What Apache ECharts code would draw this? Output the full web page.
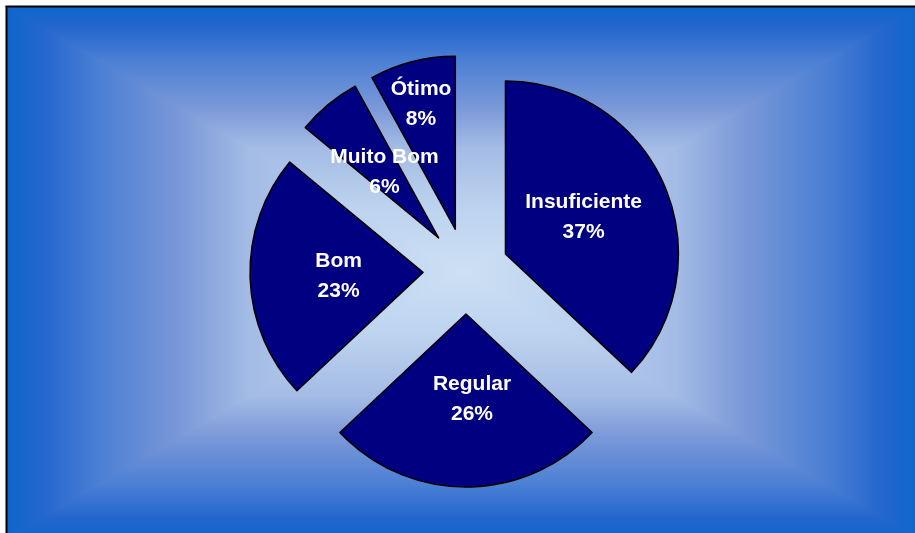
<!DOCTYPE html>
<html>
<head>
<meta charset="utf-8">
<script src="https://cdn.jsdelivr.net/npm/echarts@6/dist/echarts.min.js"></script>
<style>
  html, body { margin: 0; padding: 0; background: #ffffff; }
  #chart { width: 915px; height: 533px; }
</style>
</head>
<body>
<div id="chart"></div>
<script>
// ---- Data ----
const categories = ['Insuficiente', 'Regular', 'Bom', 'Muito Bom', 'Ótimo'];
const values = [37, 26, 23, 6, 8];

// ---- Layout / style ----
const frame = { x: 7, y: 7, x2: 918, y2: 538 };
const cx = 462, cy = 272;
const edgeStops = [
  { offset: 0, color: '#0d66cc' },
  { offset: 0.08, color: '#2466cd' },
  { offset: 0.2, color: '#4a7fd4' },
  { offset: 0.38, color: '#7a98d8' },
  { offset: 0.53, color: '#a3bbe5' },
  { offset: 0.75, color: '#bcd2ee' },
  { offset: 1, color: '#cde0f4' }
];
function grad(x, y, x2, y2) {
  return { type: 'linear', x: x, y: y, x2: x2, y2: y2, colorStops: edgeStops };
}
function tri(points, g) {
  return { type: 'polygon', shape: { points: points },
    style: { fill: g, stroke: g, lineWidth: 1.5 }, z: -10 };
}
const bgGraphics = [
  tri([[frame.x, frame.y], [frame.x, frame.y2], [cx, cy]], grad(0, 0, 1, 0)),
  tri([[frame.x2, frame.y], [frame.x2, frame.y2], [cx, cy]], grad(1, 0, 0, 0)),
  tri([[frame.x, frame.y], [frame.x2, frame.y], [cx, cy]], grad(0, 0, 0, 1)),
  tri([[frame.x, frame.y2], [frame.x2, frame.y2], [cx, cy]], grad(0, 1, 0, 0)),
  { type: 'rect', shape: { x: frame.x - 0.5, y: frame.y - 0.5, width: frame.x2 - frame.x, height: frame.y2 - frame.y },
    style: { fill: 'none', stroke: '#000000', lineWidth: 2 }, z: -5 }
];

const pieData = categories.map(function (name, i) {
  return { name: name, value: values[i], selected: true };
});

const chart = echarts.init(document.getElementById('chart'), null, { renderer: 'canvas' });
chart.setOption({
  animation: false,
  backgroundColor: '#ffffff',
  graphic: { elements: bgGraphics },
  series: [{
    type: 'pie',
    center: [466, 271],
    radius: [0, 173],
    startAngle: 90,
    clockwise: true,
    selectedMode: 'multiple',
    selectedOffset: 43,
    avoidLabelOverlap: false,
    data: pieData,
    itemStyle: { color: '#000080', borderColor: '#000000', borderWidth: 1.5 },
    label: {
      show: true,
      position: 'inside',
      formatter: '{b}\n{d}%',
      color: '#ffffff',
      fontFamily: '"Liberation Sans", Arial, sans-serif',
      fontWeight: 'bold',
      fontSize: 21,
      lineHeight: 30,
      overflow: 'none'
    },
    labelLayout: function (params) {
      if (categories[params.dataIndex] === 'Ótimo') return { dx: -12, dy: -38 };
      if (categories[params.dataIndex] === 'Insuficiente') return { dx: -4, dy: -1 };
      if (categories[params.dataIndex] === 'Regular') return { dx: 6, dy: -4 };
      if (categories[params.dataIndex] === 'Bom') return { dx: 5, dy: 1 };
      if (categories[params.dataIndex] === 'Muito Bom') return { dx: 3, dy: 3 };
      return {};
    },
    labelLine: { show: false },
    emphasis: { disabled: true },
    select: { disabled: false, itemStyle: { color: '#000080', borderColor: '#000000', borderWidth: 1.5 } }
  }]
});
</script>
</body>
</html>
